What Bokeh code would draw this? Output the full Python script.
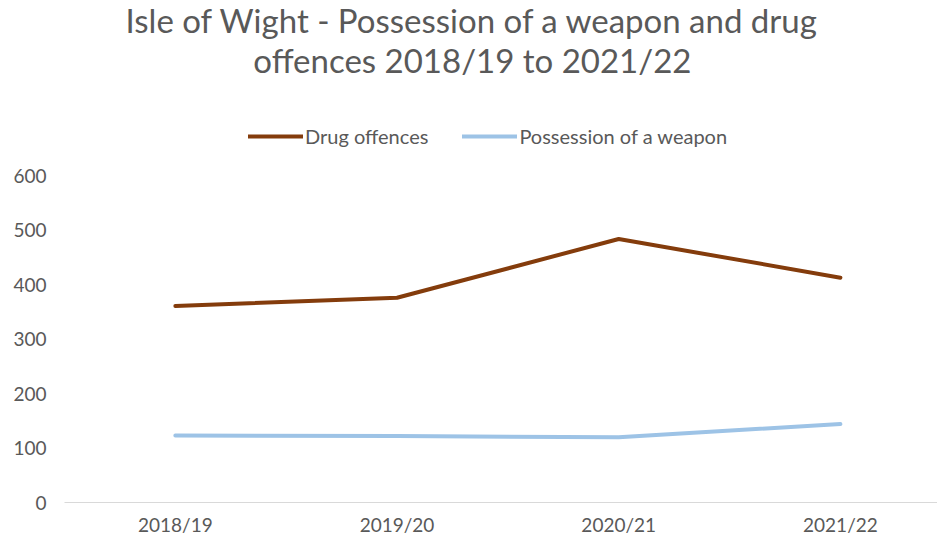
from bokeh.plotting import figure
from bokeh.models import Range1d, FixedTicker, Label, Legend, LegendItem
from bokeh.embed import file_html
from bokeh.resources import INLINE

years = ["2018/19", "2019/20", "2020/21", "2021/22"]
drug_offences = [361, 376, 484, 413]
weapon_possession = [123, 122, 120, 144]
y_ticks = [0, 100, 200, 300, 400, 500, 600]

FONT = "Lato"
GREY = "#595959"

x = list(range(len(years)))

p = figure(width=937, height=538, output_backend="svg", toolbar_location=None,
           x_range=Range1d(-0.5, 3.438), y_range=Range1d(0, 922.1),
           min_border_left=64, min_border_right=0, min_border_top=0, min_border_bottom=30)
p.outline_line_color = None
p.xgrid.grid_line_color = None
p.ygrid.grid_line_color = None

r1 = p.line(x, drug_offences, line_color="#843c0c", line_width=4, line_cap="round", line_join="round")
r2 = p.line(x, weapon_possession, line_color="#9dc3e6", line_width=4, line_cap="round", line_join="round")

p.xaxis.ticker = FixedTicker(ticks=x)
p.xaxis.major_label_overrides = {i: y for i, y in enumerate(years)}
p.xaxis.axis_line_color = "#d9d9d9"
p.xaxis.axis_line_width = 1
p.xaxis.major_tick_line_color = None
p.xaxis.minor_tick_line_color = None
p.xaxis.major_tick_in = 0
p.xaxis.major_tick_out = 0
p.xaxis.major_label_standoff = 10
p.xaxis.major_label_text_font = FONT
p.xaxis.major_label_text_font_size = "19px"
p.xaxis.major_label_text_color = GREY

p.yaxis.ticker = FixedTicker(ticks=y_ticks)
p.yaxis.axis_line_color = None
p.yaxis.major_tick_line_color = None
p.yaxis.minor_tick_line_color = None
p.yaxis.major_tick_in = 0
p.yaxis.major_tick_out = 0
p.yaxis.major_label_standoff = 18
p.yaxis.major_label_text_font = FONT
p.yaxis.major_label_text_font_size = "19px"
p.yaxis.major_label_text_color = GREY

title_lines = ["Isle of Wight - Possession of a weapon and drug",
               "offences 2018/19 to 2021/22"]
for txt, yy in zip(title_lines, [885.5, 813.5]):
    p.add_layout(Label(x=1.34, y=yy, text=txt, text_align="center", text_baseline="middle",
                       text_font=FONT, text_font_size="33px", text_color=GREY))

legend = Legend(items=[LegendItem(label="Drug offences", renderers=[r1]),
                       LegendItem(label="Possession of a weapon", renderers=[r2])],
                orientation="horizontal", location=(184, 354),
                glyph_width=55, glyph_height=20, label_standoff=2, spacing=34,
                padding=0, margin=0, border_line_alpha=0, background_fill_alpha=0,
                label_text_font=FONT, label_text_font_size="20px", label_text_color=GREY)
p.add_layout(legend)

open("out.html", "w").write(file_html(p, INLINE))
